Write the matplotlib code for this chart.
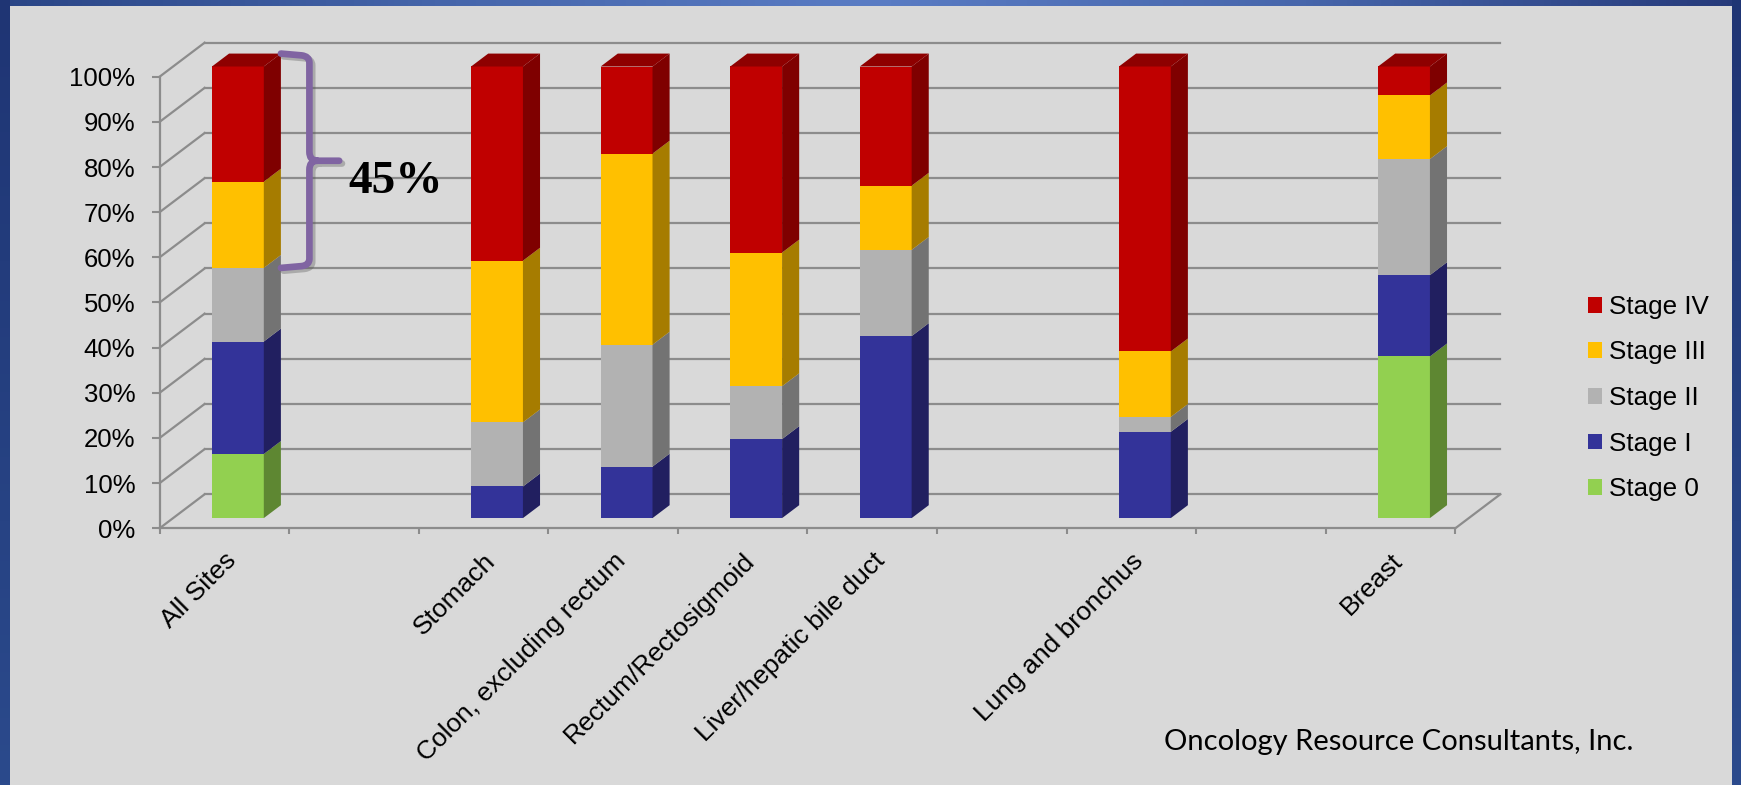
import numpy as np
import matplotlib.pyplot as plt
from matplotlib.patches import Polygon, Patch, PathPatch
from matplotlib.path import Path
from matplotlib.colors import LinearSegmentedColormap
import matplotlib.patheffects as pe

plt.rcParams['font.family'] = ['Liberation Sans', 'DejaVu Sans']

# --- data (percent of cases by stage, blank slots are empty categories) ---
sites = ["All Sites", "", "Stomach", "Colon, excluding rectum", "Rectum/Rectosigmoid",
         "Liver/hepatic bile duct", "", "Lung and bronchus", "", "Breast"]
stage_names = ["Stage 0", "Stage I", "Stage II", "Stage III", "Stage IV"]
stage_0 = [14.2, 0, 0.0, 0.0, 0.0, 0.0, 0, 0.0, 0, 35.8]
stage_1 = [24.9, 0, 7.0, 11.4, 17.5, 40.3, 0, 19.1, 0, 18.0]
stage_2 = [16.3, 0, 14.2, 27.0, 11.7, 19.1, 0, 3.3, 0, 25.7]
stage_3 = [19.1, 0, 35.8, 42.3, 29.6, 14.2, 0, 14.5, 0, 14.1]
stage_4 = [25.5, 0, 43.0, 19.3, 41.2, 26.4, 0, 63.1, 0, 6.4]
yticks = list(range(0, 101, 10))
ytick_labels = [f"{v}%" for v in yticks]
footer = "Oncology Resource Consultants, Inc."

front_colors = ["#92D050", "#333399", "#B2B2B2", "#FFC000", "#C00000"]
side_colors = ["#5E8732", "#211F60", "#737373", "#A67C00", "#7F0000"]
top_color = "#8E0000"
grid_col = "#8C8C8C"
bg = "#D9D9D9"

W, H = 1741, 785
fig = plt.figure(figsize=(W / 100, H / 100), dpi=100, facecolor=bg)

# --- blue frame round the slide ---
frame_top = LinearSegmentedColormap.from_list("ft", ["#2A4586", "#4565AA", "#5A7CC4", "#4766AB", "#263A7A"])
frame_side = LinearSegmentedColormap.from_list("fs", ["#2B4A8C", "#1F3574"])
grad = np.linspace(0, 1, 256)
for rect, cmap, arr in [([0, 1 - 6 / H, 1, 6 / H], frame_top, grad[None, :]),
                        ([0, 0, 10 / W, 1], frame_side, grad[:, None][::-1]),
                        ([1 - 9 / W, 0, 9 / W, 1], frame_side, grad[:, None][::-1])]:
    fa = fig.add_axes(rect)
    fa.imshow(arr, aspect='auto', cmap=cmap)
    fa.axis('off')

# --- main axes, laid out so the front floor edge sits under the bars ---
x0_px, y0_px = 159.6, 528.3
slot_px, pct_px = 129.57, 4.516
xmax, ymax = 10.6, 108
ax = fig.add_axes([x0_px / W, 1 - y0_px / H, xmax * slot_px / W, ymax * pct_px / H])
ax.set_xlim(0, xmax)
ax.set_ylim(0, ymax)
ax.patch.set_visible(False)

n = len(sites)
DX, DY = 45 / slot_px, 34 / pct_px        # depth of the 3D box
f0, f1 = 0.30, 0.68                       # bar depth inside the box
bw = 0.40

for s in ['top', 'right']:
    ax.spines[s].set_visible(False)
for s in ['left', 'bottom']:
    ax.spines[s].set_color(grid_col)
    ax.spines[s].set_linewidth(1.6)
ax.spines['left'].set_bounds(0, 100)
ax.spines['bottom'].set_bounds(0, n)

ax.set_yticks(yticks, ytick_labels)
ax.tick_params(axis='y', length=5.5, width=1.5, color=grid_col, pad=12, labelsize=18.5)
ax.set_xticks(range(n + 1), [""] * (n + 1))
ax.tick_params(axis='x', length=4.5, width=1.5, color=grid_col)

# walls and floor
for v in yticks:
    ax.plot([0, DX], [v, v + DY], color=grid_col, lw=1.6, zorder=1, clip_on=False)
    ax.plot([DX, n + DX], [v + DY, v + DY], color=grid_col, lw=1.6, zorder=1, clip_on=False)
ax.plot([n, n + DX], [0, DY], color=grid_col, lw=1.6, zorder=1, clip_on=False)

# stacked 3D bars
stacks = np.array([stage_0, stage_1, stage_2, stage_3, stage_4])
x_front = np.arange(n) + 0.5 + f0 * DX
ddx, ddy = (f1 - f0) * DX, (f1 - f0) * DY
cum = np.zeros(n)
for k in range(len(stage_names)):
    vals = stacks[k]
    ax.bar(x_front, vals, bottom=cum + f0 * DY, width=bw, color=front_colors[k],
           linewidth=0, zorder=3)
    for i in range(n):
        if vals[i] <= 0:
            continue
        xr = x_front[i] + bw / 2
        yb = cum[i] + f0 * DY
        yt = yb + vals[i]
        ax.add_patch(Polygon([(xr, yb), (xr + ddx, yb + ddy), (xr + ddx, yt + ddy), (xr, yt)],
                             closed=True, facecolor=side_colors[k], lw=0, zorder=3))
    cum += vals

for i in range(n):
    if cum[i] <= 0:
        continue
    xl, xr = x_front[i] - bw / 2, x_front[i] + bw / 2
    yt = cum[i] + f0 * DY
    ax.add_patch(Polygon([(xl, yt), (xl + ddx, yt + ddy), (xr + ddx, yt + ddy), (xr, yt)],
                         closed=True, facecolor=top_color, lw=0, zorder=3))

# category labels
for i, s in enumerate(sites):
    if s:
        ax.text(i + 0.5, -4.5, s, rotation=45, ha='right', va='top',
                rotation_mode='anchor', fontsize=19, clip_on=False)

# brace over Stage III + IV of All Sites
late = stage_3[0] + stage_4[0]
xa = x_front[0] + bw / 2 + ddx
xv, xt = xa + 0.22, xa + 0.45
ytop = cum[0] + f1 * DY
ybot = cum[0] - late + f0 * DY
ym = (ytop + ybot) / 2
rx, ry = 0.06, 2.0
verts = [(xa, ytop), (xv - rx, ytop - 0.4), (xv, ytop - 0.6), (xv, ytop - ry),
         (xv, ym + ry), (xv, ym), (xv + rx, ym), (xt, ym),
         (xa, ybot), (xv - rx, ybot + 0.4), (xv, ybot + 0.6), (xv, ybot + ry),
         (xv, ym - ry), (xv, ym), (xv + rx, ym)]
codes = [Path.MOVETO, Path.LINETO, Path.CURVE3, Path.CURVE3,
         Path.LINETO, Path.CURVE3, Path.CURVE3, Path.LINETO,
         Path.MOVETO, Path.LINETO, Path.CURVE3, Path.CURVE3,
         Path.LINETO, Path.CURVE3, Path.CURVE3]
brace = PathPatch(Path(verts, codes), facecolor='none', edgecolor='#8064A2', lw=4.8,
                  capstyle='round', joinstyle='round', zorder=4, clip_on=False)
brace.set_path_effects([pe.SimpleLineShadow(offset=(2, -2), shadow_color='#555555', alpha=0.35),
                        pe.Normal()])
ax.add_patch(brace)
ax.text(xt + 0.07, ym - 7.25, f"{late:.0f}%", fontfamily=['Liberation Serif', 'DejaVu Serif'],
        fontweight='bold', fontsize=34, ha='left', va='baseline', zorder=5)

# legend
handles = [Patch(facecolor=front_colors[k], label=stage_names[k]) for k in reversed(range(5))]
fig.legend(handles=handles, loc='center left', bbox_to_anchor=(1588 / W, 1 - 398 / H),
           frameon=False, borderpad=0, borderaxespad=0, handlelength=0.55,
           handleheight=0.55, handletextpad=0.25, labelspacing=0.83, fontsize=18.7)

fig.text(1164 / W, 1 - 750 / H, footer, fontfamily=['Lato', 'DejaVu Sans'], fontsize=21,
         ha='left', va='baseline')

fig.savefig("out.png", dpi=100, facecolor=bg)
